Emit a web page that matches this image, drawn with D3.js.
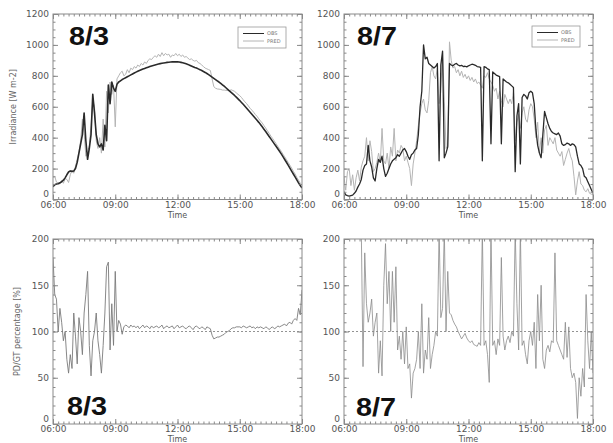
<!DOCTYPE html>
<html><head><meta charset="utf-8">
<script src="https://cdn.jsdelivr.net/npm/d3@7"></script>
<style>body{margin:0;background:#fff}svg{display:block}</style>
</head><body><svg id="c" width="613" height="443"></svg>
<script>
// minutes after 06:00, 5-minute samples
const minutes = d3.range(0, 721, 5);
const timeTicks = [0, 180, 360, 540, 720];
const timeLabels = ["06:00", "09:00", "12:00", "15:00", "18:00"];
const irrTicks = [0, 200, 400, 600, 800, 1000, 1200];
const pctTicks = [0, 50, 100, 150, 200];
const dayLabels = ["8/3", "8/7"];
const seriesNames = ["OBS", "PRED"];

const obs83 = [82,95,100,102,108,115,125,140,160,178,185,182,
185,200,240,300,360,420,560,380,260,330,420,680,
560,420,360,340,360,320,480,380,740,620,760,720,
700,745,760,768,776,782,788,794,800,806,812,818,
824,829,834,839,844,848,852,856,860,864,867,870,
873,876,879,881,883,885,887,888,889,890,890,890,
890,889,887,885,882,878,874,869,864,859,854,850,
845,840,834,828,822,815,808,800,792,784,776,768,
760,751,742,733,723,713,703,693,683,673,662,651,
640,628,616,603,590,577,564,551,538,525,512,499,
485,470,455,440,424,408,392,376,360,344,328,312,
295,277,259,241,222,203,184,165,146,127,108,90,
75];
const pred83 = [145,150,112,108,100,125,105,135,130,110,160,190,
170,215,260,310,380,520,430,280,300,350,480,640,
600,380,330,400,300,520,340,700,560,760,680,740,
470,780,800,820,830,800,810,840,820,850,840,860,
850,870,860,880,870,890,880,900,910,905,920,930,
920,940,925,950,930,945,935,940,920,935,930,945,
930,940,925,935,920,925,915,905,910,900,895,900,
885,880,870,860,850,845,840,835,780,730,720,715,
714,712,708,708,706,706,703,710,705,700,690,680,
672,660,645,632,620,605,590,578,565,550,538,522,
508,495,478,462,445,428,410,395,378,361,344,328,
312,293,276,258,240,222,203,183,165,143,125,105,
95];
const ratio83 = [180,140,135,100,125,110,90,100,70,55,75,60,
120,95,65,115,100,75,120,140,165,85,52,90,
100,120,90,75,55,85,120,170,175,80,130,85,
165,100,112,108,97,105,107,106,104,107,105,106,
104,106,103,105,107,104,106,105,103,106,104,105,
106,104,105,107,103,105,106,104,105,106,103,105,
107,104,105,106,104,103,105,106,104,102,105,106,
104,103,105,104,102,105,104,103,96,92,93,94,
94,95,96,97,99,100,101,103,104,104,105,105,
105,104,106,105,104,105,106,104,105,103,105,104,
105,104,103,105,104,102,104,105,103,104,106,105,
106,107,108,106,109,110,108,112,114,112,125,118,
145];
const obs87 = [50,30,25,22,25,28,40,55,80,100,130,190,
220,230,350,250,210,140,120,200,260,240,280,200,
150,170,200,230,250,260,270,290,280,300,320,330,
310,280,260,290,300,320,330,420,600,700,1000,910,
920,880,870,860,850,860,880,250,870,960,270,300,
340,880,870,865,875,880,870,865,868,860,862,858,
865,870,875,872,868,860,858,855,250,860,855,845,
840,360,825,815,805,800,795,360,780,770,760,755,
745,735,725,180,540,620,230,660,680,670,650,690,
700,690,620,450,350,300,270,420,570,530,490,460,
440,430,425,420,430,410,360,350,355,365,360,350,
360,355,340,280,230,220,200,150,140,115,90,65,
40];
const pred87 = [145,60,180,200,90,160,60,140,190,120,210,250,
280,400,250,380,310,180,200,240,300,240,460,250,
230,300,200,340,280,460,250,320,300,350,330,250,
280,240,200,90,230,300,380,480,560,620,650,580,
560,640,820,860,800,780,850,620,700,950,650,330,
350,1020,900,850,860,820,840,800,830,790,810,780,
800,770,790,760,780,750,760,740,720,800,790,820,
780,760,740,700,720,650,700,640,600,680,650,620,
650,620,700,380,500,550,460,560,600,520,500,580,
620,600,520,400,500,300,400,300,450,480,350,400,
380,360,400,320,300,280,310,220,260,300,330,280,
250,150,30,120,180,100,90,60,50,70,40,35,
30];
const ratio87 = [260,400,700,900,640,450,300,280,240,220,210,62,
185,130,110,120,135,95,110,120,55,90,52,150,
195,130,165,100,165,110,170,80,95,70,100,65,
105,60,65,28,55,60,70,100,60,130,55,80,
70,115,60,75,85,100,95,210,115,125,210,100,
165,120,118,112,108,105,100,96,92,95,98,93,
90,88,90,86,85,84,88,85,210,85,90,75,
45,210,85,90,75,92,85,180,95,80,90,95,
88,100,95,210,130,80,210,85,90,75,65,90,
100,85,110,60,140,90,150,70,60,80,85,78,
90,88,185,90,85,80,75,70,110,72,105,60,
50,55,45,6,50,30,60,40,140,90,60,100,
55];

const svg = d3.select("#c");
const FONT = "DejaVu Sans, sans-serif";
const AX = "#8a8a8a";

function panel(cfg) {
  const x = d3.scaleLinear().domain([0, 720]).range([cfg.x0, cfg.x1]);
  const y = d3.scaleLinear().domain([0, cfg.ymax]).range([cfg.y1, cfg.y0]);
  const g = svg.append("g");
  const cid = "clip" + cfg.id;
  svg.append("clipPath").attr("id", cid).append("rect")
    .attr("x", cfg.x0).attr("y", cfg.y0).attr("width", cfg.x1 - cfg.x0).attr("height", cfg.y1 - cfg.y0);

  if (cfg.ref != null) {
    g.append("line").attr("x1", cfg.x0).attr("x2", cfg.x1)
      .attr("y1", y(cfg.ref)).attr("y2", y(cfg.ref))
      .attr("stroke", "#777").attr("stroke-width", 0.8).attr("stroke-dasharray", "2,2");
  }
  const line = d3.line().x((d, i) => x(minutes[i])).y(d => y(d));
  // draw lighter (later-listed) series first so OBS sits on top
  cfg.series.slice().reverse().forEach(s => {
    g.append("path").datum(s.values).attr("clip-path", `url(#${cid})`)
      .attr("d", line).attr("fill", "none").attr("stroke", s.color)
      .attr("stroke-width", s.width).attr("stroke-linejoin", "round");
  });

  // frame
  g.append("rect").attr("x", cfg.x0).attr("y", cfg.y0)
    .attr("width", cfg.x1 - cfg.x0).attr("height", cfg.y1 - cfg.y0)
    .attr("fill", "none").attr("stroke", AX).attr("stroke-width", 1);

  const minorX = d3.range(0, 721, 15);
  const minorY = d3.range(0, cfg.ymax + 1, cfg.ministep);
  function styleAxis(sel) {
    sel.select(".domain").remove();
    sel.selectAll("line").attr("stroke", AX);
    sel.selectAll("text").attr("fill", "#555").attr("font-family", FONT).attr("font-size", 9);
  }
  // bottom
  g.append("g").attr("transform", `translate(0,${cfg.y1})`)
    .call(d3.axisBottom(x).tickValues(minorX).tickSize(-2.5).tickFormat("")).call(styleAxis);
  g.append("g").attr("transform", `translate(0,${cfg.y1})`)
    .call(d3.axisBottom(x).tickValues(timeTicks).tickSize(-5).tickPadding(2)
      .tickFormat((d, i) => timeLabels[i])).call(styleAxis);
  // top
  g.append("g").attr("transform", `translate(0,${cfg.y0})`)
    .call(d3.axisTop(x).tickValues(minorX).tickSize(-2.5).tickFormat("")).call(styleAxis);
  g.append("g").attr("transform", `translate(0,${cfg.y0})`)
    .call(d3.axisTop(x).tickValues(timeTicks).tickSize(-5).tickFormat("")).call(styleAxis);
  // left
  g.append("g").attr("transform", `translate(${cfg.x0},0)`)
    .call(d3.axisLeft(y).tickValues(minorY).tickSize(-2.5).tickFormat("")).call(styleAxis);
  const la = g.append("g").attr("transform", `translate(${cfg.x0},0)`)
    .call(d3.axisLeft(y).tickValues(cfg.yticks).tickSize(-5).tickPadding(4).tickFormat(d3.format("d"))).call(styleAxis);
  // lift the "0" label above the first time label, as in the original
  la.selectAll(".tick").filter(d => d === 0).select("text").attr("dy", "-0.3em");
  // right
  g.append("g").attr("transform", `translate(${cfg.x1},0)`)
    .call(d3.axisRight(y).tickValues(minorY).tickSize(-2.5).tickFormat("")).call(styleAxis);
  g.append("g").attr("transform", `translate(${cfg.x1},0)`)
    .call(d3.axisRight(y).tickValues(cfg.yticks).tickSize(-5).tickFormat("")).call(styleAxis);

  // x title
  g.append("text").attr("x", (cfg.x0 + cfg.x1) / 2).attr("y", cfg.y1 + 18)
    .attr("text-anchor", "middle").attr("font-family", FONT).attr("font-size", 8)
    .attr("fill", "#555").text("Time");
  if (cfg.ytitle) {
    g.append("text").attr("transform", `translate(${cfg.ytx},${(cfg.y0 + cfg.y1) / 2}) rotate(-90)`)
      .attr("text-anchor", "middle").attr("font-family", FONT).attr("font-size", 8)
      .attr("fill", "#666").text(cfg.ytitle);
  }
  // big day label
  g.append("text").attr("x", cfg.x0 + cfg.lx).attr("y", cfg.ly)
    .attr("font-family", "Liberation Sans, Arial, sans-serif").attr("font-weight", "bold")
    .attr("font-size", 26).attr("fill", "#111")
    .attr("textLength", 40).attr("lengthAdjust", "spacingAndGlyphs").text(cfg.label);

  if (cfg.legend) {
    const L = cfg.legend;
    const lg = g.append("g").attr("transform", `translate(${L[0]},${L[1]})`);
    lg.append("rect").attr("width", 48).attr("height", 21).attr("fill", "#fff")
      .attr("stroke", "#999").attr("stroke-width", 0.8);
    cfg.series.forEach((s, k) => {
      lg.append("line").attr("x1", 5).attr("x2", 26).attr("y1", 6.5 + k * 7.5).attr("y2", 6.5 + k * 7.5)
        .attr("stroke", s.color).attr("stroke-width", 1);
      lg.append("text").attr("x", 29).attr("y", 8.3 + k * 7.5).attr("font-family", FONT)
        .attr("font-size", 5).attr("fill", "#777").text(seriesNames[k]);
    });
  }
}

panel({id: "tl", x0: 53, x1: 302, y0: 14, y1: 199.5, ymax: 1200, yticks: irrTicks, ministep: 50,
  series: [{values: obs83, color: "#2a2a2a", width: 1.6}, {values: pred83, color: "#b4b4b4", width: 1}],
  ytitle: "Irradiance [W m-2]", ytx: 16, label: dayLabels[0], lx: 16, ly: 44.5, legend: [238, 27]});
panel({id: "tr", x0: 344, x1: 593, y0: 14, y1: 199.5, ymax: 1200, yticks: irrTicks, ministep: 50,
  series: [{values: obs87, color: "#2a2a2a", width: 1.3}, {values: pred87, color: "#b4b4b4", width: 1}],
  label: dayLabels[1], lx: 13, ly: 44.5, legend: [532, 26]});
panel({id: "bl", x0: 53, x1: 302, y0: 239, y1: 424, ymax: 200, yticks: pctTicks, ministep: 10, ref: 100,
  series: [{values: ratio83, color: "#7a7a7a", width: 0.9}],
  ytitle: "PD/GT percentage [%]", ytx: 20, label: dayLabels[0], lx: 14, ly: 415});
panel({id: "br", x0: 344, x1: 593, y0: 239, y1: 424, ymax: 200, yticks: pctTicks, ministep: 10, ref: 100,
  series: [{values: ratio87, color: "#8a8a8a", width: 0.8}],
  label: dayLabels[1], lx: 12, ly: 416});
</script></body></html>
